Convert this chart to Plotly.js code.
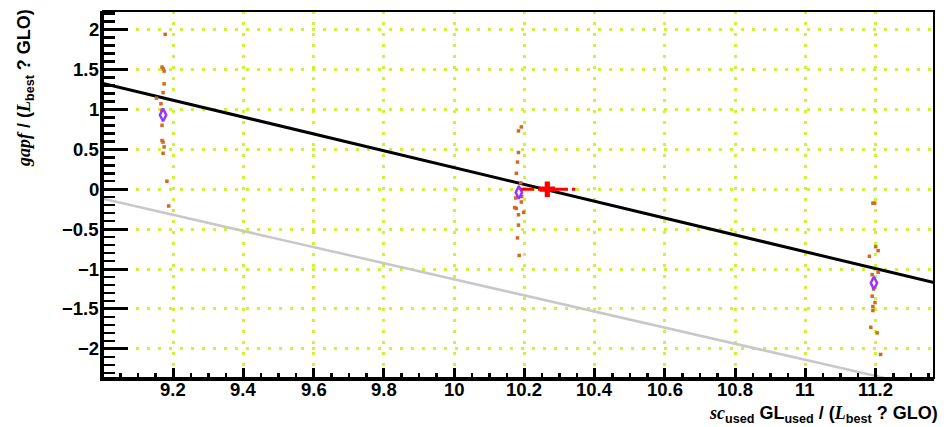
<!DOCTYPE html>
<html>
<head>
<meta charset="utf-8">
<script src="https://cdn.plot.ly/plotly-3.0.1.min.js"></script>
<style>html,body{margin:0;padding:0;background:#fff;}#chart{width:946px;height:427px;}</style>
</head>
<body>
<div id="chart"></div>
<script>
// ---- data ----
const scanX = [9.177, 9.168, 9.171, 9.174, 9.174, 9.171, 9.152, 9.165, 9.168, 9.168, 9.168, 9.171, 9.174, 9.171, 9.182, 9.187,
  10.191, 10.183, 10.183, 10.180, 10.177, 10.189, 10.175, 10.192, 10.191, 10.172, 10.177, 10.198, 10.183, 10.183, 10.180, 10.185,
  11.192, 11.197, 11.200, 11.207, 11.182, 11.207, 11.190, 11.194, 11.190, 11.198, 11.192, 11.192, 11.186, 11.204, 11.214];
const scanY = [1.94, 1.53, 1.51, 1.48, 1.32, 1.21, 1.14, 1.07, 0.99, 0.80, 0.61, 0.59, 0.53, 0.45, 0.10, -0.21,
  0.78, 0.73, 0.46, 0.34, 0.20, 0.08, -0.11, -0.09, -0.16, -0.23, -0.24, -0.29, -0.32, -0.45, -0.61, -0.83,
  -0.175, -0.175, -0.72, -0.77, -0.84, -1.04, -1.07, -1.25, -1.34, -1.42, -1.47, -1.52, -1.73, -1.80, -2.07];
const meanX = [9.171, 10.184, 11.195];
const meanY = [0.93, -0.04, -1.175];
const bestX = [10.265];
const bestY = [0.0];
const bestErrX = [10.19, 10.345];
const fitX = [9.0, 11.366];
const fitY = [1.325, -1.17];
const refX = [9.0, 11.26];
const refY = [-0.12, -2.40];
const xTicks = [9.2, 9.4, 9.6, 9.8, 10, 10.2, 10.4, 10.6, 10.8, 11, 11.2];
const xTickText = ["9.2", "9.4", "9.6", "9.8", "10", "10.2", "10.4", "10.6", "10.8", "11", "11.2"];
const yTicks = [2, 1.5, 1, 0.5, 0, -0.5, -1, -1.5, -2];
const yTickText = ["2", "1.5", "1", "0.5", "0", "\u22120.5", "\u22121", "\u22121.5", "\u22122"];

const gridCol = "#cdf23a";
const tickFont = {family: "Liberation Sans, Arial, sans-serif", size: 18.5, color: "#000", weight: "bold"};

const traces = [
  {x: refX, y: refY, mode: "lines", line: {color: "#c8c8c8", width: 2.5}, hoverinfo: "skip"},
  {x: fitX, y: fitY, mode: "lines", line: {color: "#000", width: 3}, hoverinfo: "skip"},
  {x: scanX, y: scanY, mode: "markers", marker: {symbol: "square", size: 3.5, color: "#d2691e"}},
  {x: meanX, y: meanY, mode: "markers", marker: {symbol: "diamond-tall-open", size: 9, color: "#9933ff", line: {width: 2.5, color: "#9933ff"}}},
  {x: bestErrX, y: [bestY[0], bestY[0]], mode: "lines", line: {color: "#ff0000", width: 3, dash: "13px,4px"}, hoverinfo: "skip"},
  {x: bestX, y: bestY, mode: "markers", marker: {symbol: "cross", size: 13, color: "#ff0000"}}
];

const annotations = [];
xTicks.forEach((v, i) => annotations.push({
  xref: "x", yref: "paper", x: v, y: -0.031, xanchor: "center", yanchor: "middle", showarrow: false,
  font: tickFont, text: xTickText[i]
}));
yTicks.forEach((v, i) => annotations.push({
  xref: "paper", yref: "y", x: -0.0025, y: v, xanchor: "right", yanchor: "middle", showarrow: false,
  font: tickFont, text: yTickText[i]
}));
annotations.push(
  {xref: "paper", yref: "paper", x: 1.0075, y: -0.10, xanchor: "right", yanchor: "middle", showarrow: false,
   font: {family: "Liberation Sans, Arial, sans-serif", size: 18, color: "#000", weight: "bold"},
   text: "<span style=\"font-family:Liberation Serif\"><i>sc</i></span><sub>used</sub> GL<sub>used</sub> / (<span style=\"font-family:Liberation Serif\"><i>L</i></span><sub>best</sub> ? GLO)"},
  {xref: "paper", yref: "paper", x: -0.093, y: 1.01, xanchor: "center", yanchor: "top", textangle: -90, showarrow: false,
   font: {family: "Liberation Sans, Arial, sans-serif", size: 18, color: "#000", weight: "bold"},
   text: "<span style=\"font-family:Liberation Serif\"><i>gapf</i></span> / (<span style=\"font-family:Liberation Serif\"><i>L</i></span><sub>best</sub> ? GLO)"}
);

const layout = {
  width: 946, height: 427,
  margin: {l: 103, r: 12, t: 10.5, b: 48.5},
  paper_bgcolor: "#fff", plot_bgcolor: "#fff",
  showlegend: false,
  xaxis: {
    range: [9.0, 11.366], tickmode: "array", tickvals: xTicks, showticklabels: false,
    ticks: "inside", ticklen: 10, tickwidth: 3, tickcolor: "#000",
    minor: {dtick: 0.05, tick0: 9.0, ticks: "inside", ticklen: 5, tickwidth: 2.5, tickcolor: "#000", showgrid: false},
    showline: true, linewidth: 3, linecolor: "#000",
    showgrid: true, gridcolor: gridCol, gridwidth: 3, griddash: "3px,8px",
    zeroline: false
  },
  yaxis: {
    range: [-2.365, 2.2325], tickmode: "array", tickvals: yTicks, showticklabels: false,
    ticks: "inside", ticklen: 25, tickwidth: 3, tickcolor: "#000",
    minor: {dtick: 0.1, tick0: 0, ticks: "inside", ticklen: 12, tickwidth: 2.5, tickcolor: "#000", showgrid: false},
    showline: true, linewidth: 3, linecolor: "#000",
    showgrid: true, gridcolor: gridCol, gridwidth: 3, griddash: "3px,8px",
    zeroline: false
  },
  shapes: [
    {type: "rect", xref: "paper", yref: "paper", x0: 0, x1: 1, y0: 0, y1: 1, line: {color: "#000", width: 2}, fillcolor: "rgba(0,0,0,0)"}
  ],
  annotations: annotations
};

Plotly.newPlot("chart", traces, layout, {staticPlot: true, displayModeBar: false});
</script>
</body>
</html>
